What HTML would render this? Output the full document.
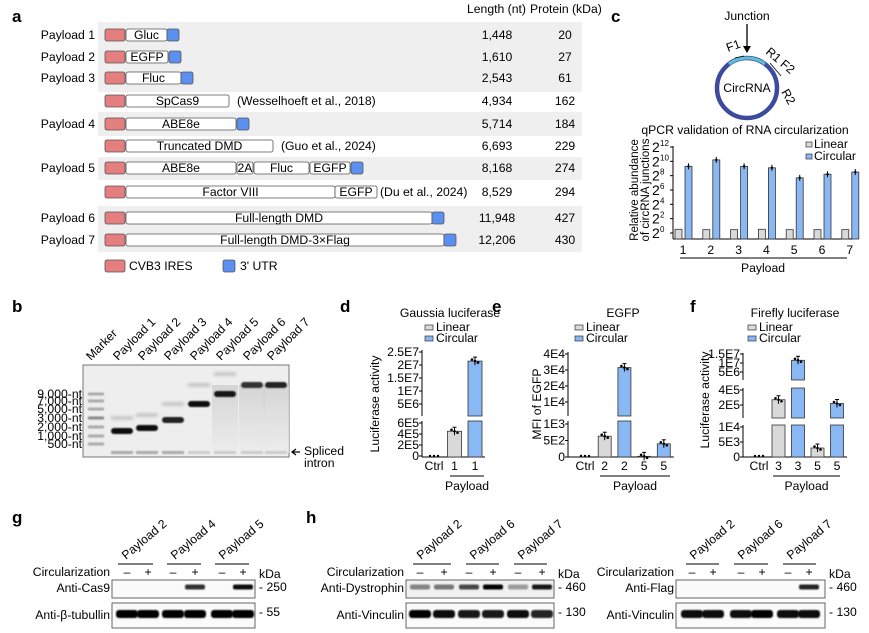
<!DOCTYPE html>
<html><head><meta charset="utf-8">
<style>
body{margin:0;background:#fff}
svg{display:block;font-family:"Liberation Sans",Arial,sans-serif}
</style></head>
<body>
<svg id="fig" width="869" height="633" viewBox="0 0 869 633" xmlns="http://www.w3.org/2000/svg">
<defs>
<filter id="blur1" x="-20%" y="-100%" width="140%" height="300%"><feGaussianBlur stdDeviation="0.9"/></filter>
<filter id="blur2" x="-20%" y="-100%" width="140%" height="300%"><feGaussianBlur stdDeviation="1.6"/></filter>
<linearGradient id="smear" x1="0" y1="0" x2="0" y2="1"><stop offset="0" stop-color="#cfcfcf"/><stop offset="1" stop-color="#ececec"/></linearGradient>
</defs>
<g id="panelA"></g>
<g id="panelB"></g>
<g id="panelC"></g>
<g id="panelD"></g>
<g id="panelE"></g>
<g id="panelF"></g>
<g id="panelGH"></g>
</svg>
<script>
const NS="http://www.w3.org/2000/svg";
function el(parent,tag,attrs,text){const e=document.createElementNS(NS,tag);for(const k in attrs)e.setAttribute(k,attrs[k]);if(text!==undefined)e.textContent=text;parent.appendChild(e);return e;}

// ---------- chart data ----------
const cCats=["1","2","3","4","5","6","7"];
const cLinear=[0.1,0.05,0.05,0.1,0.05,0.05,0.05];
const cCircular=[9.3,10.2,9.3,9.1,7.7,8.2,8.5];
const cTicks=[0,2,4,6,8,10,12];

const dCats=["Ctrl","1","1"];
const dGroups=["ctrl","linear","circular"];
const dValues=[2e3,4.5e5,2.15e7];
const dTicksLow=[0,2e5,4e5,6e5];
const dTickLabelsLow=["0","2E5","4E5","6E5"];
const dTicksHigh=[5e6,1e7,1.5e7,2e7,2.5e7];
const dTickLabelsHigh=["5E6","1E7","1.5E7","2E7","2.5E7"];

const eCats=["Ctrl","2","2","5","5"];
const eGroups=["ctrl","linear","circular","linear","circular"];
const eValues=[10,630,31500,20,400];
const eTicksLow=[0,500,1000];
const eTickLabelsLow=["0","5E2","1E3"];
const eTicksHigh=[1e4,2e4,3e4,4e4];
const eTickLabelsHigh=["1E4","2E4","3E4","4E4"];

const fCats=["Ctrl","3","3","5","5"];
const fGroups=["ctrl","linear","circular","linear","circular"];
const fValues=[50,2.7e5,1.15e7,3000,2.2e5];
const fTicksLow=[0,5e3,1e4];
const fTickLabelsLow=["0","5E3","1E4"];
const fTicksMid=[2e5,4e5];
const fTickLabelsMid=["2E5","4E5"];
const fTicksHigh=[5e6,1e7,1.5e7];
const fTickLabelsHigh=["5E6","1E7","1.5E7"];

const FS=12.2;
const BLUE="#8ab8f5", GRAY="#d9d9d9", EDGE="#333";

// ---------- Panel letters ----------
const svg=document.getElementById('fig');
[["a",12,22],["b",12,312],["c",611,22],["d",340,312],["e",492,312],["f",690,312],["g",12,523],["h",306,523]].forEach(([t,x,y])=>{
  const e=el(svg,'text',{x:x,y:y,'font-size':17,'font-weight':'bold'},t);
  
  
});

// ---------- Panel a ----------
const A=document.getElementById('panelA');
[[22,92],[112,136],[157,180],[206,252]].forEach(([y0,y1])=>{
  const r=el(A,'rect',{x:98,y:y0,width:484,height:y1-y0,fill:'#efefef'});
  
  
});
el(A,'text',{x:467,y:13,'font-size':FS},'Length (nt)');
el(A,'text',{x:530,y:13,'font-size':FS},'Protein (kDa)');
const rows=[
 {lab:"Payload 1",y:35,parts:[["Gluc",126,167]],utr:167,len:"1,448",kda:"20"},
 {lab:"Payload 2",y:57,parts:[["EGFP",126,168]],utr:169,len:"1,610",kda:"27"},
 {lab:"Payload 3",y:78,parts:[["Fluc",126,181]],utr:181,len:"2,543",kda:"61"},
 {lab:"",y:101,parts:[["SpCas9",126,229]],ref:["(Wesselhoeft et al., 2018)",237],len:"4,934",kda:"162"},
 {lab:"Payload 4",y:124,parts:[["ABE8e",126,236]],utr:237,len:"5,714",kda:"184"},
 {lab:"",y:146,parts:[["Truncated DMD",126,273]],ref:["(Guo et al., 2024)",281],len:"6,693",kda:"229"},
 {lab:"Payload 5",y:168,parts:[["ABE8e",126,236],["2A",237,253],["Fluc",254,309],["EGFP",310,350]],utr:351,len:"8,168",kda:"274"},
 {lab:"",y:192,parts:[["Factor VIII",126,335],["EGFP",335,377]],ref:["(Du et al., 2024)",380],len:"8,529",kda:"294"},
 {lab:"Payload 6",y:218,parts:[["Full-length DMD",126,432]],utr:432,len:"11,948",kda:"427"},
 {lab:"Payload 7",y:240,parts:[["Full-length DMD-3×Flag",126,444]],utr:444,len:"12,206",kda:"430"}
];
rows.forEach((r,i)=>{
  const g=el(A,'g',{});
  
  
  if(r.lab) el(g,'text',{x:95,y:r.y+4,'font-size':FS,'text-anchor':'end'},r.lab);
  el(g,'rect',{x:105,y:r.y-6,width:20,height:12,rx:2,fill:'#e57f7f',stroke:'#555','stroke-width':0.8});
  r.parts.forEach(p=>{
    el(g,'rect',{x:p[1],y:r.y-6,width:p[2]-p[1],height:12,rx:2,fill:'#fff',stroke:'#555','stroke-width':0.8});
    el(g,'text',{x:(p[1]+p[2])/2,y:r.y+4,'font-size':FS,'text-anchor':'middle'},p[0]);
  });
  if(r.utr) el(g,'rect',{x:r.utr,y:r.y-6,width:12,height:12,rx:2,fill:'#5b8ff0',stroke:'#555','stroke-width':0.8});
  if(r.ref) el(g,'text',{x:r.ref[1],y:r.y+4,'font-size':FS},r.ref[0]);
  el(g,'text',{x:497,y:r.y+4,'font-size':FS,'text-anchor':'middle'},r.len);
  el(g,'text',{x:565,y:r.y+4,'font-size':FS,'text-anchor':'middle'},r.kda);
});
el(A,'rect',{x:105,y:260,width:20,height:12,rx:2,fill:'#e57f7f',stroke:'#555','stroke-width':0.8});
el(A,'text',{x:129,y:270,'font-size':FS},'CVB3 IRES');
el(A,'rect',{x:223,y:260,width:12,height:12,rx:2,fill:'#5b8ff0',stroke:'#555','stroke-width':0.8});
el(A,'text',{x:240,y:270,'font-size':FS},"3' UTR");

// ---------- Panel b (gel) ----------
const B=document.getElementById('panelB');
el(B,'rect',{x:83,y:365,width:206,height:92,fill:'#eeeeee',stroke:'#777','stroke-width':1});
const laneX=[95,122,147,173,199,225,252,276];
const laneNames=["Marker","Payload 1","Payload 2","Payload 3","Payload 4","Payload 5","Payload 6","Payload 7"];
laneNames.forEach((n,i)=>{
  const t=el(B,'text',{x:laneX[i]-4,y:361,'font-size':FS,transform:`rotate(-45 ${laneX[i]-4} 361)`},n);
  
  
});
[[5,385],[6,385],[7,385]].forEach(([i,y])=>el(B,'rect',{x:laneX[i]-13,y:y,width:26,height:68,fill:'url(#smear)',opacity:0.8}));
const markerY=[394,401,409,418,427,436,444];
const markerLab=["9,000-nt","7,000-nt","5,000-nt","3,000-nt","2,000-nt","1,000-nt","500-nt"];
markerY.forEach((y,i)=>{
  el(B,'rect',{x:88,y:y-1.5,width:16,height:3,fill:i==3?'#888':'#aaa',filter:'url(#blur1)'});
  el(B,'text',{x:82,y:y+4,'font-size':FS,'text-anchor':'end'},markerLab[i]);
});
const mainBands=[[1,431,'#111'],[2,428,'#111'],[3,420,'#222'],[4,404,'#111'],[5,394,'#151515'],[6,385,'#333'],[7,385,'#222']];
mainBands.forEach(([i,y,c])=>el(B,'rect',{x:laneX[i]-11,y:y-3,width:22,height:6,rx:3,fill:c,filter:'url(#blur1)'}));
[[1,418],[2,415],[3,404],[4,385],[5,374]].forEach(([i,y])=>el(B,'rect',{x:laneX[i]-11,y:y-1.5,width:22,height:3,fill:'#bbb',filter:'url(#blur2)'}));
[1,2,3,4,5,6,7].forEach(i=>el(B,'rect',{x:laneX[i]-11,y:451,width:22,height:3,fill:i<4?'#aaa':'#ccc',filter:'url(#blur1)'}));
el(B,'path',{d:'M300 452 L292 452 M296 449 L292 452 L296 455',stroke:'#000','stroke-width':1.2,fill:'none'});
el(B,'text',{x:304,y:455,'font-size':FS},'Spliced');
el(B,'text',{x:304,y:467,'font-size':FS},'intron');

// ---------- Panel c ----------
const C=document.getElementById('panelC');
el(C,'text',{x:747,y:20,'font-size':FS,'text-anchor':'middle'},'Junction');
el(C,'path',{d:'M747 24 L747 52',stroke:'#000','stroke-width':1.3});
el(C,'path',{d:'M743 46 L747 53 L751 46 Z',fill:'#000'});
el(C,'circle',{cx:747,cy:88,r:30,fill:'none',stroke:'#3d4b9c','stroke-width':4.5});
el(C,'path',{d:'M729 64 A30 30 0 0 1 765 64',fill:'none',stroke:'#5ec0d8','stroke-width':3});
el(C,'text',{x:747,y:92,'font-size':FS,'text-anchor':'middle'},'CircRNA');
el(C,'text',{x:728,y:52,'font-size':FS,transform:'rotate(-20 728 52)'},'F1');
el(C,'path',{d:'M735 58 L744 56',stroke:'#000','stroke-width':0.8});
el(C,'text',{x:765,y:53,'font-size':FS,transform:'rotate(40 765 53)'},'R1 F2');
el(C,'path',{d:'M770 63 L781 76',stroke:'#000','stroke-width':0.8});
el(C,'text',{x:781,y:92,'font-size':FS,transform:'rotate(60 781 92)'},'R2');
el(C,'text',{x:745,y:134,'font-size':FS,'text-anchor':'middle'},'qPCR validation of RNA circularization');
const cY=v=>233-v*(86/12);
const cX0=683, cStep=27.8;
el(C,'line',{x1:673,y1:146,x2:673,y2:239,stroke:'#000','stroke-width':1});
el(C,'line',{x1:673,y1:239,x2:853,y2:239,stroke:'#000','stroke-width':1});
cTicks.forEach(t=>{
  const y=cY(t);
  el(C,'line',{x1:670,y1:y,x2:673,y2:y,stroke:'#000'});
  el(C,'text',{x:652,y:y+5,'font-size':14},'2');
  el(C,'text',{x:660,y:y-1,'font-size':8},String(t));
});
el(C,'text',{x:638,y:190,'font-size':11.5,'text-anchor':'middle',transform:'rotate(-90 638 190)'},'Relative abundance');
el(C,'text',{x:649,y:190,'font-size':11.5,'text-anchor':'middle',transform:'rotate(-90 649 190)'},'of circRNA junctions');
cCats.forEach((c,i)=>{
  const xc=cX0+i*cStep;
  const yl=cY(cLinear[i]);
  const bl=el(C,'rect',{x:xc-8,y:yl-3,width:7,height:239-yl+3,fill:GRAY,stroke:EDGE,'stroke-width':0.8});
  
  
  const yc=cY(cCircular[i]);
  const bc=el(C,'rect',{x:xc+2,y:yc,width:7,height:239-yc,fill:BLUE,stroke:EDGE,'stroke-width':0.8});
  
  
  el(C,'line',{x1:xc+5.5,y1:yc-3,x2:xc+5.5,y2:yc+3,stroke:'#000'});
  el(C,'circle',{cx:xc+5.5,cy:yc,r:1.2,fill:'#000'});
  el(C,'text',{x:xc,y:254,'font-size':FS,'text-anchor':'middle'},c);
});
el(C,'line',{x1:680,y1:258,x2:847,y2:258,stroke:'#000'});
el(C,'text',{x:763,y:272,'font-size':FS,'text-anchor':'middle'},'Payload');
el(C,'rect',{x:806,y:142,width:6,height:5,fill:GRAY,stroke:EDGE,'stroke-width':0.7});
el(C,'text',{x:814,y:148,'font-size':FS},'Linear');
el(C,'rect',{x:806,y:154,width:6,height:5,fill:BLUE,stroke:EDGE,'stroke-width':0.7});
el(C,'text',{x:814,y:160,'font-size':FS},'Circular');

// ---------- broken-axis bar charts ----------
function brokenChart(G,opt){
  const segs=opt.segs;
  segs.forEach((s,k)=>{
    s.y=v=>s.p0+(v-s.v0)*(s.p1-s.p0)/(s.v1-s.v0);
    s.vt=s.v0+(s.t-s.p0)*(s.v1-s.v0)/(s.p1-s.p0);
    s.vmin=k===0?-Infinity:segs[k-1].vt;
    el(G,'line',{x1:opt.ax,y1:s.b,x2:opt.ax,y2:s.t,stroke:'#000'});
    s.ticks.forEach((t,j)=>{
      const y=s.y(t);
      el(G,'line',{x1:opt.ax-3,y1:y,x2:opt.ax,y2:y,stroke:'#000'});
      el(G,'text',{x:opt.ax-3,y:y+4,'font-size':FS,'text-anchor':'end'},s.labels[j]);
    });
  });
  el(G,'line',{x1:opt.ax,y1:457,x2:opt.x0+opt.step*(opt.cats.length-1)+10,y2:457,stroke:'#000'});
  opt.cats.forEach((c,i)=>{
    const xc=opt.x0+i*opt.step, v=opt.vals[i], grp=opt.groups[i];
    el(G,'text',{x:xc,y:470,'font-size':FS,'text-anchor':'middle'},c);
    if(grp==='ctrl'){
      [-4,0,4].forEach(dx=>el(G,'circle',{cx:xc+dx,cy:456,r:1.2,fill:'#000'}));
      return;
    }
    let topY=null;
    segs.forEach(s=>{
      if(v<=s.vmin) return;
      const yv=s.y(v);
      const top=Math.max(s.t,Math.min(s.b,yv));
      const r=el(G,'rect',{x:xc-opt.bw/2,y:top,width:opt.bw,height:s.b-top,fill:grp==='linear'?GRAY:BLUE,stroke:EDGE,'stroke-width':0.8});
      
      
      if(yv>=s.t && yv<=s.b) topY=yv;
    });
    if(topY!==null){
      el(G,'line',{x1:xc,y1:topY-4,x2:xc,y2:topY+4,stroke:'#000'});
      el(G,'line',{x1:xc-2,y1:topY-4,x2:xc+2,y2:topY-4,stroke:'#000'});
      [-3,0,3].forEach((dx,k)=>el(G,'circle',{cx:xc+dx,cy:topY+(k-1)*1.5,r:1.3,fill:'#000'}));
    }
  });
  el(G,'line',{x1:opt.ul[0],y1:476,x2:opt.ul[1],y2:476,stroke:'#000'});
  el(G,'text',{x:(opt.ul[0]+opt.ul[1])/2,y:490,'font-size':FS,'text-anchor':'middle'},'Payload');
  el(G,'text',{x:opt.tx,y:317,'font-size':FS,'text-anchor':'middle'},opt.title);
  el(G,'rect',{x:opt.lx,y:325,width:8,height:5,fill:GRAY,stroke:EDGE,'stroke-width':0.7});
  el(G,'text',{x:opt.lx+11,y:331,'font-size':FS},'Linear');
  el(G,'rect',{x:opt.lx,y:336,width:8,height:5,fill:BLUE,stroke:EDGE,'stroke-width':0.7});
  el(G,'text',{x:opt.lx+11,y:342,'font-size':FS},'Circular');
  el(G,'text',{x:opt.yl,y:opt.ylc||404,'font-size':FS,'text-anchor':'middle',transform:`rotate(-90 ${opt.yl} ${opt.ylc||404})`},opt.ylabel);
}
brokenChart(document.getElementById('panelD'),{ax:422,x0:434,step:20.5,bw:14,cats:dCats,vals:dValues,groups:dGroups,
  segs:[{v0:0,p0:456,v1:6e5,p1:423,b:457,t:421,ticks:dTicksLow,labels:dTickLabelsLow},
        {v0:5e6,p0:404,v1:2.5e7,p1:352,b:416,t:350,ticks:dTicksHigh,labels:dTickLabelsHigh}],
  ul:[450,484],title:'Gaussia luciferase',tx:450,lx:425,yl:379,ylabel:'Luciferase activity'});
brokenChart(document.getElementById('panelE'),{ax:568,x0:585,step:19.7,bw:13,cats:eCats,vals:eValues,groups:eGroups,
  segs:[{v0:0,p0:457,v1:1e3,p1:424,b:457,t:421,ticks:eTicksLow,labels:eTickLabelsLow},
        {v0:1e4,p0:402,v1:4e4,p1:354,b:416,t:352,ticks:eTicksHigh,labels:eTickLabelsHigh}],
  ul:[600,670],title:'EGFP',tx:623,lx:575,yl:541,ylabel:'MFI of EGFP'});
brokenChart(document.getElementById('panelF'),{ax:743,x0:759,step:19.5,bw:13,cats:fCats,vals:fValues,groups:fGroups,
  segs:[{v0:0,p0:457,v1:1e4,p1:427,b:457,t:425,ticks:fTicksLow,labels:fTickLabelsLow},
        {v0:2e5,p0:405,v1:4e5,p1:390,b:418,t:388,ticks:fTicksMid,labels:fTickLabelsMid},
        {v0:5e6,p0:372,v1:1.5e7,p1:354,b:380,t:353,ticks:fTicksHigh,labels:fTickLabelsHigh}],
  ul:[773,840],title:'Firefly luciferase',tx:795,lx:748,yl:709,ylc:400,ylabel:'Luciferase activity'});

// ---------- Westerns ----------
const GH=document.getElementById('panelGH');
function blot(cfg){
  const g=el(GH,'g',{});
  
  
  el(g,'text',{x:cfg.bx-2,y:576,'font-size':FS,'text-anchor':'end'},'Circularization');
  cfg.lanes.forEach((x,i)=>el(g,'text',{x:x,y:576,'font-size':FS,'text-anchor':'middle'},i%2?'+':'–'));
  cfg.groups.forEach((gr,i)=>{
    el(g,'line',{x1:gr[0],y1:564,x2:gr[1],y2:564,stroke:'#000'});
    const xx=gr[0]+8, yy=560;
    el(g,'text',{x:xx,y:yy,'font-size':FS,transform:`rotate(-40 ${xx} ${yy})`},cfg.payloads[i]);
  });
  el(g,'text',{x:cfg.bx2+4,y:578,'font-size':FS},'kDa');
  el(g,'rect',{x:cfg.bx,y:580,width:cfg.bx2-cfg.bx,height:18,fill:cfg.bg1||'#fafafa',stroke:'#666'});
  el(g,'rect',{x:cfg.bx,y:603,width:cfg.bx2-cfg.bx,height:25,fill:'#fafafa',stroke:'#666'});
  el(g,'text',{x:cfg.bx-2,y:592,'font-size':FS,'text-anchor':'end'},cfg.ab1);
  el(g,'text',{x:cfg.bx-2,y:619,'font-size':FS,'text-anchor':'end'},cfg.ab2);
  el(g,'text',{x:cfg.bx2+4,y:591,'font-size':FS},'- '+cfg.m1);
  el(g,'text',{x:cfg.bx2+4,y:616,'font-size':FS},'- '+cfg.m2);
  cfg.lanes.forEach((x,i)=>{
    const a=cfg.i1[i];
    if(a>0) el(g,'rect',{x:x-10,y:587-2.5,width:20,height:5,rx:2,fill:'#000',opacity:a,filter:'url(#blur1)'});
    el(g,'rect',{x:x-11,y:614-4,width:22,height:8,rx:3,fill:'#000',opacity:cfg.i2[i],filter:'url(#blur1)'});
  });
}
blot({name:'blot-cas9',bx:112,bx2:255,lanes:[127,148,173,195,222,243],groups:[[118,153],[167,201],[215,249]],payloads:['Payload 2','Payload 4','Payload 5'],
  ab1:'Anti-Cas9',ab2:'Anti-β-tubullin',m1:'250',m2:'55',i1:[0,0,0,0.8,0,0.95],i2:[1,1,1,1,1,1]});
blot({name:'blot-dystrophin',bx:406,bx2:554,bg1:'#f0f0f0',lanes:[420,444,469,493,518,542],groups:[[413,451],[466,499],[514,547]],payloads:['Payload 2','Payload 6','Payload 7'],
  ab1:'Anti-Dystrophin',ab2:'Anti-Vinculin',m1:'460',m2:'130',i1:[0.45,0.5,0.7,1,0.35,0.9],i2:[1,0.95,0.9,0.9,0.95,0.85]});
blot({name:'blot-flag',bx:676,bx2:825,lanes:[692,713,741,762,788,809],groups:[[686,719],[734,768],[783,816]],payloads:['Payload 2','Payload 6','Payload 7'],
  ab1:'Anti-Flag',ab2:'Anti-Vinculin',m1:'460',m2:'130',i1:[0,0,0,0,0,0.85],i2:[0.95,0.95,0.95,1,0.95,0.95]});
</script>
</body></html>
